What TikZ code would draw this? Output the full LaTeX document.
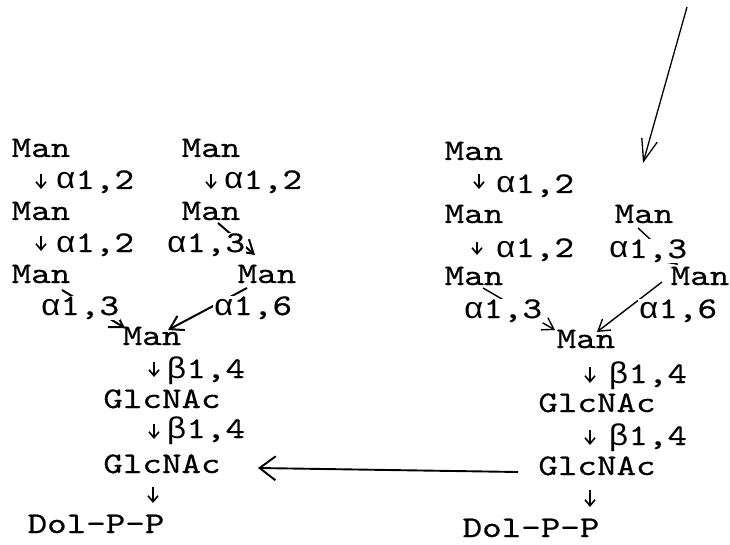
\documentclass[tikz,border=0pt]{standalone}
\usepackage{fontspec}
\newfontfamily\tw{lmmono10-regular.otf}[FakeStretch=1.24,FakeBold=0.5]
\newfontfamily\grk{Liberation Mono}[FakeStretch=1.1]
\usetikzlibrary{arrows.meta}
\begin{document}
\begin{tikzpicture}[x=1pt,y=-1pt,
  sugar/.style={anchor=base,inner sep=1pt,font=\fontsize{30}{36}\tw},
  bond/.style={anchor=base west,inner sep=0.5pt,fill=white,font=\fontsize{30}{36}\tw},
  dn/.style={line width=1.6pt,-{Straight Barb[length=6pt,width=10pt]},shorten <=17pt,shorten >=31pt},
  diag/.style={line width=2pt,-{Straight Barb[length=13pt,width=16pt]}},
  diagthin/.style={line width=1.4pt,-{Straight Barb[length=11pt,width=14pt]}},
  bigarrow/.style={line width=1.9pt,-{Straight Barb[length=16pt,width=24pt]}},
  longarrow/.style={line width=1.3pt,-{Straight Barb[length=22pt,width=16pt]}}]
\useasboundingbox (0,0) rectangle (730,545);

% ---- left structure ----
\node[sugar] (m1) at (41,157) {Man};
\node[sugar] (m2) at (41,220) {Man};
\node[sugar] (m3) at (41,283) {Man};
\node[sugar] (m4) at (211,157) {Man};
\node[sugar] (m5) at (211,220) {Man};
\node[sugar] (m6) at (267,283) {Man};
\node[sugar] (mc) at (152,345) {Man};
\node[sugar] (g1) at (162,408) {GlcNAc};
\node[sugar] (g2) at (162,473) {GlcNAc};
\node[sugar] (d)  at (96,533) {Dol-P-P};

% ---- right structure ----
\node[sugar] (r1) at (474,160) {Man};
\node[sugar] (r2) at (474,223) {Man};
\node[sugar] (r3) at (474,285) {Man};
\node[sugar] (r4) at (644,223) {Man};
\node[sugar] (r5) at (700,285) {Man};
\node[sugar] (rc) at (586,348) {Man};
\node[sugar] (rg1) at (597,412) {GlcNAc};
\node[sugar] (rg2) at (597,475) {GlcNAc};
\node[sugar] (rd) at (531,537) {Dol-P-P};
\coordinate (top) at (687,7);

% ---- linkages, left ----
\draw[dn] (m1.base) -- (m2.base);
\draw[dn,shorten <=16pt,shorten >=32pt] (m2.base) -- (m3.base);
\draw[dn] (m4.base) -- (m5.base);
\draw[dn] ([xshift=2pt]mc.base) -- ([xshift=2pt]mc.base |- g1.base);
\draw[dn,shorten <=16pt,shorten >=34pt] ([xshift=-8pt]g1.base) -- ([xshift=-8pt]g1.base |- g2.base);
\draw[dn,shorten <=14pt,shorten >=30pt] ([xshift=-9pt]g2.base) -- ([xshift=-9pt]g2.base |- d.base);
\draw[diag] ([shift={(21,7)}]m3.base) -- ([shift={(-27,-17)}]mc.base);
\draw[diag] ([shift={(7,3)}]m5.base) -- ([shift={(-12,-28)}]m6.base);
\draw[diag] ([shift={(-20,5)}]m6.base) -- ([shift={(16,-15)}]mc.base);

% ---- linkages, right ----
\draw[dn,shorten <=14pt,shorten >=34pt] ([xshift=5pt]r1.base) -- ([xshift=5pt]r1.base |- r2.base);
\draw[dn,shorten <=19pt,shorten >=30pt] ([xshift=3pt]r2.base) -- ([xshift=3pt]r2.base |- r3.base);
\draw[dn,shorten <=19pt,shorten >=29pt] ([xshift=4pt]rc.base) -- ([xshift=4pt]rc.base |- rg1.base);
\draw[dn,shorten <=18pt,shorten >=30pt] ([xshift=-7pt]rg1.base) -- ([xshift=-7pt]rg1.base |- rg2.base);
\draw[dn,shorten <=15pt,shorten >=30pt] ([xshift=-7pt]rg2.base) -- ([xshift=-7pt]rg2.base |- rd.base);
\draw[diagthin] ([shift={(9,3)}]r3.base) -- ([shift={(-31,-18)}]rc.base);
\draw[diagthin] ([shift={(-6,5)}]r4.base) -- ([shift={(-22,-20)}]r5.base);
\draw[diagthin] ([shift={(-38,-3)}]r5.base) -- ([shift={(11,-16)}]rc.base);

% ---- connections between the two structures ----
\draw[longarrow] (top) -- ([shift={(-1,-60)}]r4.base);
\draw[bigarrow] ([shift={(-79,-3)}]rg2.base) -- ([shift={(96,-5)}]g2.base);

% ---- linkage labels ----
\node[bond] at (55,189) {{\grk α}1,2};
\node[bond] at (55,252) {{\grk α}1,2};
\node[bond] at (223,189) {{\grk α}1,2};
\node[bond] at (166,252) {{\grk α}1,3};
\node[bond] at (40,315) {{\grk α}1,3};
\node[bond] at (213,315) {{\grk α}1,6};
\node[bond] at (166,378) {{\grk β}1,4};
\node[bond] at (166,438) {{\grk β}1,4};

\node[bond] at (495,193) {{\grk α}1,2};
\node[bond] at (495,257) {{\grk α}1,2};
\node[bond] at (608,258) {{\grk α}1,3};
\node[bond] at (463,318) {{\grk α}1,3};
\node[bond] at (638,318) {{\grk α}1,6};
\node[bond] at (608,383) {{\grk β}1,4};
\node[bond] at (608,445) {{\grk β}1,4};
\end{tikzpicture}
\end{document}
